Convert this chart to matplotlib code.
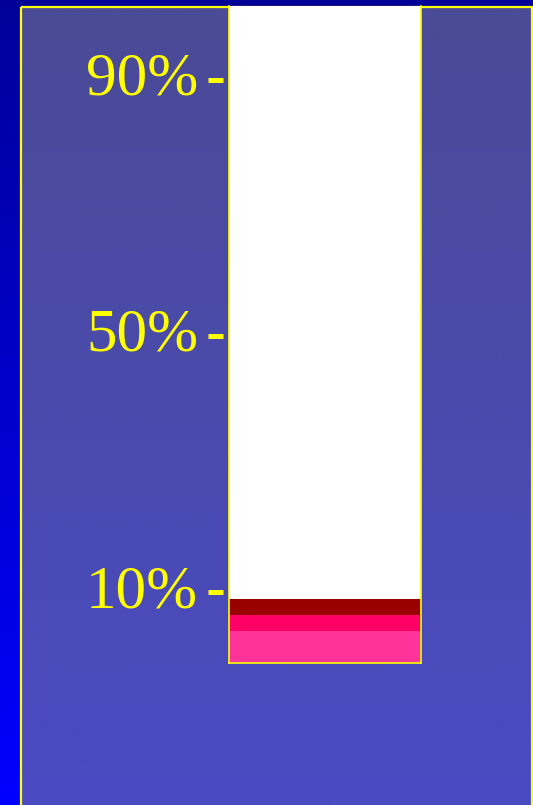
import numpy as np
import matplotlib
matplotlib.use('Agg')
import matplotlib.pyplot as plt
from matplotlib import transforms
from matplotlib.patches import Rectangle

# progress gauge: stacked fill levels (percent, cumulative tops)
tick_values = [10, 50, 90]
tick_labels = ['10%', '50%', '90%']
fill_tops = [3.9, 6.4, 8.9]
fill_colors = ['#ff3399', '#ff0066', '#990000']

W, H = 533, 805
fig = plt.figure(figsize=(W / 100, H / 100), dpi=100)

# outer background, dark blue to bright blue
bg = fig.add_axes([0, 0, 1, 1])
bg.set_axis_off()
grad = np.linspace(0, 1, 256)[:, None]
outer = np.zeros((256, 1, 3))
outer[..., 2] = (153 + (255 - 153) * grad) / 255
bg.imshow(outer, aspect='auto', extent=[0, W, H, 0], interpolation='bilinear')

# inner panel with slate gradient and yellow frame
inner = np.zeros((256, 1, 3))
inner[..., 0] = 74 / 255
inner[..., 1] = 74 / 255
inner[..., 2] = (150 + (196 - 150) * grad) / 255
bg.imshow(inner, aspect='auto', extent=[21, 532, H + 5, 7], interpolation='bilinear')
bg.add_patch(Rectangle((21, 7), 511, H, fill=False, edgecolor='#ffff00', lw=1.6))
bg.set_xlim(0, W)
bg.set_ylim(H, 0)

# the gauge itself
x0, x1, ytop, ybot = 229, 421, 6, 663
ax = fig.add_axes([x0 / W, (H - ybot) / H, (x1 - x0) / W, (ybot - ytop) / H])
px = 6.4  # pixels per percent
ymin = 10 - (ybot - 592) / px
ymax = 90 + (80 - ytop) / px
ax.set_ylim(ymin, ymax)
ax.set_xlim(0, 1)
ax.set_facecolor('white')
ax.set_xticks([])
ax.set_yticks([])
for side in ['left', 'right', 'bottom']:
    ax.spines[side].set_color('#ffff00')
    ax.spines[side].set_linewidth(1.2)
ax.spines['top'].set_visible(False)

bottom = ymin
for top, col in zip(fill_tops, fill_colors):
    ax.bar(0.5, top - bottom, bottom=bottom, width=1.0, color=col, linewidth=0)
    bottom = top

# tick dashes and labels to the left of the gauge
trans = ax.get_yaxis_transform()
label_trans = transforms.offset_copy(trans, fig=fig, y=-15, units='dots')
for v, lab in zip(tick_values, tick_labels):
    ax.plot([-21 / 192, -6 / 192], [v, v], color='#ffff00', lw=3.6,
            solid_capstyle='butt', transform=trans, clip_on=False)
    ax.text(-31 / 192, v, lab, transform=label_trans, ha='right', va='baseline',
            color='#ffff00', fontsize=44, family='Liberation Serif')

fig.savefig('out.png', dpi=100)
